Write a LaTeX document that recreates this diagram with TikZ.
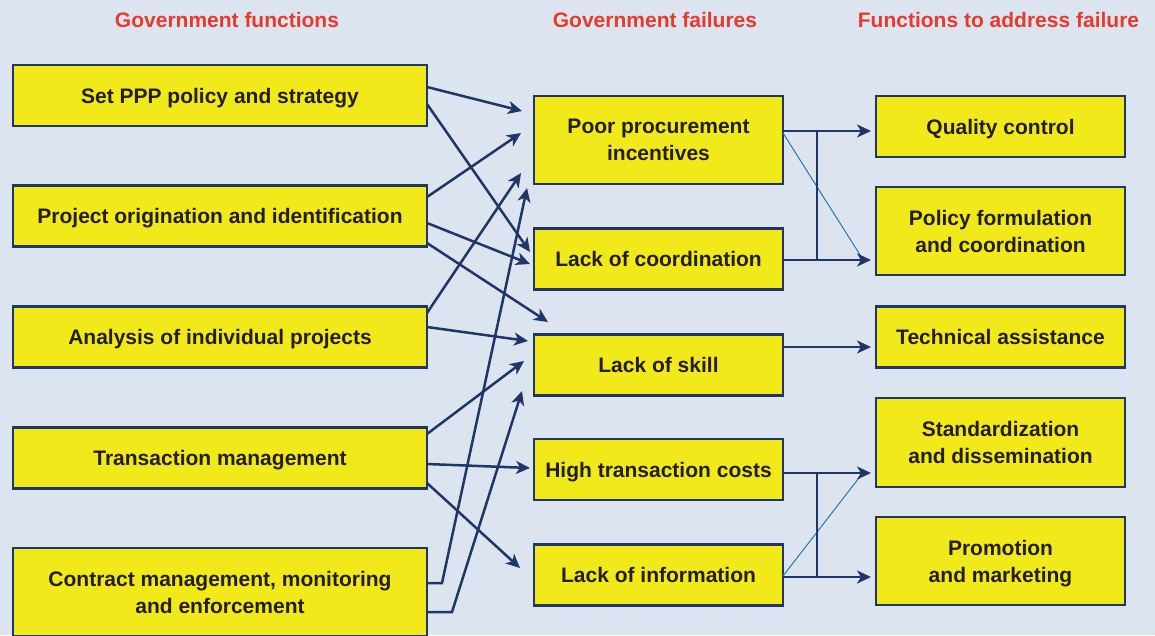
\documentclass[tikz,border=0pt]{standalone}
\usepackage{fontspec}
\setmainfont{Liberation Sans}
\usetikzlibrary{arrows.meta,calc}
\definecolor{bg}{RGB}{220,228,240}
\definecolor{boxy}{RGB}{242,233,26}
\definecolor{navy}{RGB}{31,54,104}
\definecolor{hdr}{RGB}{232,58,44}
\definecolor{txt}{RGB}{35,31,32}
\definecolor{thinc}{RGB}{40,120,170}
\begin{document}
\begin{tikzpicture}[x=1pt,y=-1pt,
  box/.style={draw=navy,line width=2.2pt,fill=boxy,inner sep=0pt,outer sep=0pt,align=center,text=txt,font=\bfseries\fontsize{21}{27}\selectfont,minimum height=61pt},
  lbox/.style={box,minimum width=414pt},
  mbox/.style={box,minimum width=249pt},
  one/.style={text height=15pt,text depth=0pt},
  two/.style={minimum height=88pt,text depth=0pt},
  hdrs/.style={text=hdr,font=\bfseries\fontsize{21}{25}\selectfont,anchor=base,inner sep=0pt},
  arr/.style={draw=navy,line width=2.5pt,-{Stealth[length=14pt,width=13pt,inset=4pt]}},
  ln/.style={draw=navy,line width=2.5pt},
  thinln/.style={draw=thinc,line width=1pt}]
\useasboundingbox[fill=bg] (0,0) rectangle (1155,635);

% headers
\node[hdrs] (h1) at (227,27) {Government functions};
\node[hdrs] (h2) at (655,27) {Government failures};
\node[hdrs] (h3) at (998.5,27) {Functions to address failure};

% left column
\node[lbox,one] (s1) at (220,95.5) {Set PPP policy and strategy};
\node[lbox,one] (s2) at (220,216) {Project origination and identification};
\node[lbox,one] (s3) at (220,337) {Analysis of individual projects};
\node[lbox,one] (s4) at (220,458) {Transaction management};
\node[lbox,two] (s5) at (220,592) {Contract management, monitoring\\and enforcement};

% middle column
\node[mbox,two] (f1) at (658.5,140) {Poor procurement\\incentives};
\node[mbox,one] (f2) at (658.5,259) {Lack of coordination};
\node[mbox,one] (f3) at (658.5,365) {Lack of skill};
\node[mbox,one] (f4) at (658.5,469.5) {High transaction costs};
\node[mbox,one] (f5) at (658.5,575) {Lack of information};

% right column
\node[mbox,one] (r1) at (1000.5,126.5) {Quality control};
\node[mbox,two] (r2) at (1000.5,231) {Policy formulation\\and coordination};
\node[mbox,one] (r3) at (1000.5,337) {Technical assistance};
\node[mbox,two,minimum height=89pt] (r4) at (1000.5,442.5) {Standardization\\and dissemination};
\node[mbox,two] (r5) at (1000.5,561) {Promotion\\and marketing};

% arrow tips (left -> middle)
\coordinate (t1) at (522,111);
\coordinate (t2) at (530,252);
\coordinate (t3) at (521,133);
\coordinate (t4) at (530,264);
\coordinate (t5) at (548,322);
\coordinate (t6) at (521,173);
\coordinate (t7) at (528,341);
\coordinate (t8) at (524,361);
\coordinate (t9) at (530,468);
\coordinate (t10) at (520,568);
\coordinate (t11) at (527,188);
\coordinate (t12) at (522,391);

\draw[arr] ($(s1.east)+(0,-8.5)$) -- (t1);
\draw[arr] ($(s1.east)+(0,8.5)$) -- (t2);
\draw[arr] ($(s2.east)+(0,-19)$) -- (t3);
\draw[arr] ($(s2.east)+(0,7)$) -- (t4);
\draw[arr] ($(s2.east)+(0,27)$) -- (t5);
\draw[arr] ($(s3.east)+(0,-24)$) -- (t6);
\draw[arr] ($(s3.east)+(0,-10)$) -- (t7);
\draw[arr] ($(s4.east)+(0,-24)$) -- (t8);
\draw[arr] ($(s4.east)+(0,6)$) -- (t9);
\draw[arr] ($(s4.east)+(0,25)$) -- (t10);
\draw[arr] ($(s5.east)+(0,-9)$) -- ++(15,0) -- (t11);
\draw[arr] ($(s5.east)+(0,20)$) -- ++(25,0) -- (t12);

% middle -> right
\draw[thinln] ($(f1.east)+(0,-7)$) -- ($(r2.west)+(-14,27)$);
\draw[thinln] ($(f5.east)+(0,1)$) -- ($(r4.west)+(-14,31.5)$);

\draw[arr] ($(f1.east)+(0,-9)$) coordinate (a1) -- ($(r1.west |- a1)+(-5,0)$);
\draw[arr] ($(f2.east)+(0,1)$) coordinate (a2) -- ($(r2.west |- a2)+(-5,0)$);
\draw[ln] ($(a1)+(34,0)$) -- ($(a2)+(34,0)$);
\draw[arr] ($(f3.east)+(0,-18)$) coordinate (a3) -- ($(r3.west |- a3)+(-5,0)$);
\draw[arr] ($(f4.east)+(0,3.5)$) coordinate (a4) -- ($(r4.west |- a4)+(-5,0)$);
\draw[arr] ($(f5.east)+(0,2)$) coordinate (a5) -- ($(r5.west |- a5)+(-5,0)$);
\draw[ln] ($(a4)+(34,0)$) -- ($(a5)+(34,0)$);
\end{tikzpicture}
\end{document}
